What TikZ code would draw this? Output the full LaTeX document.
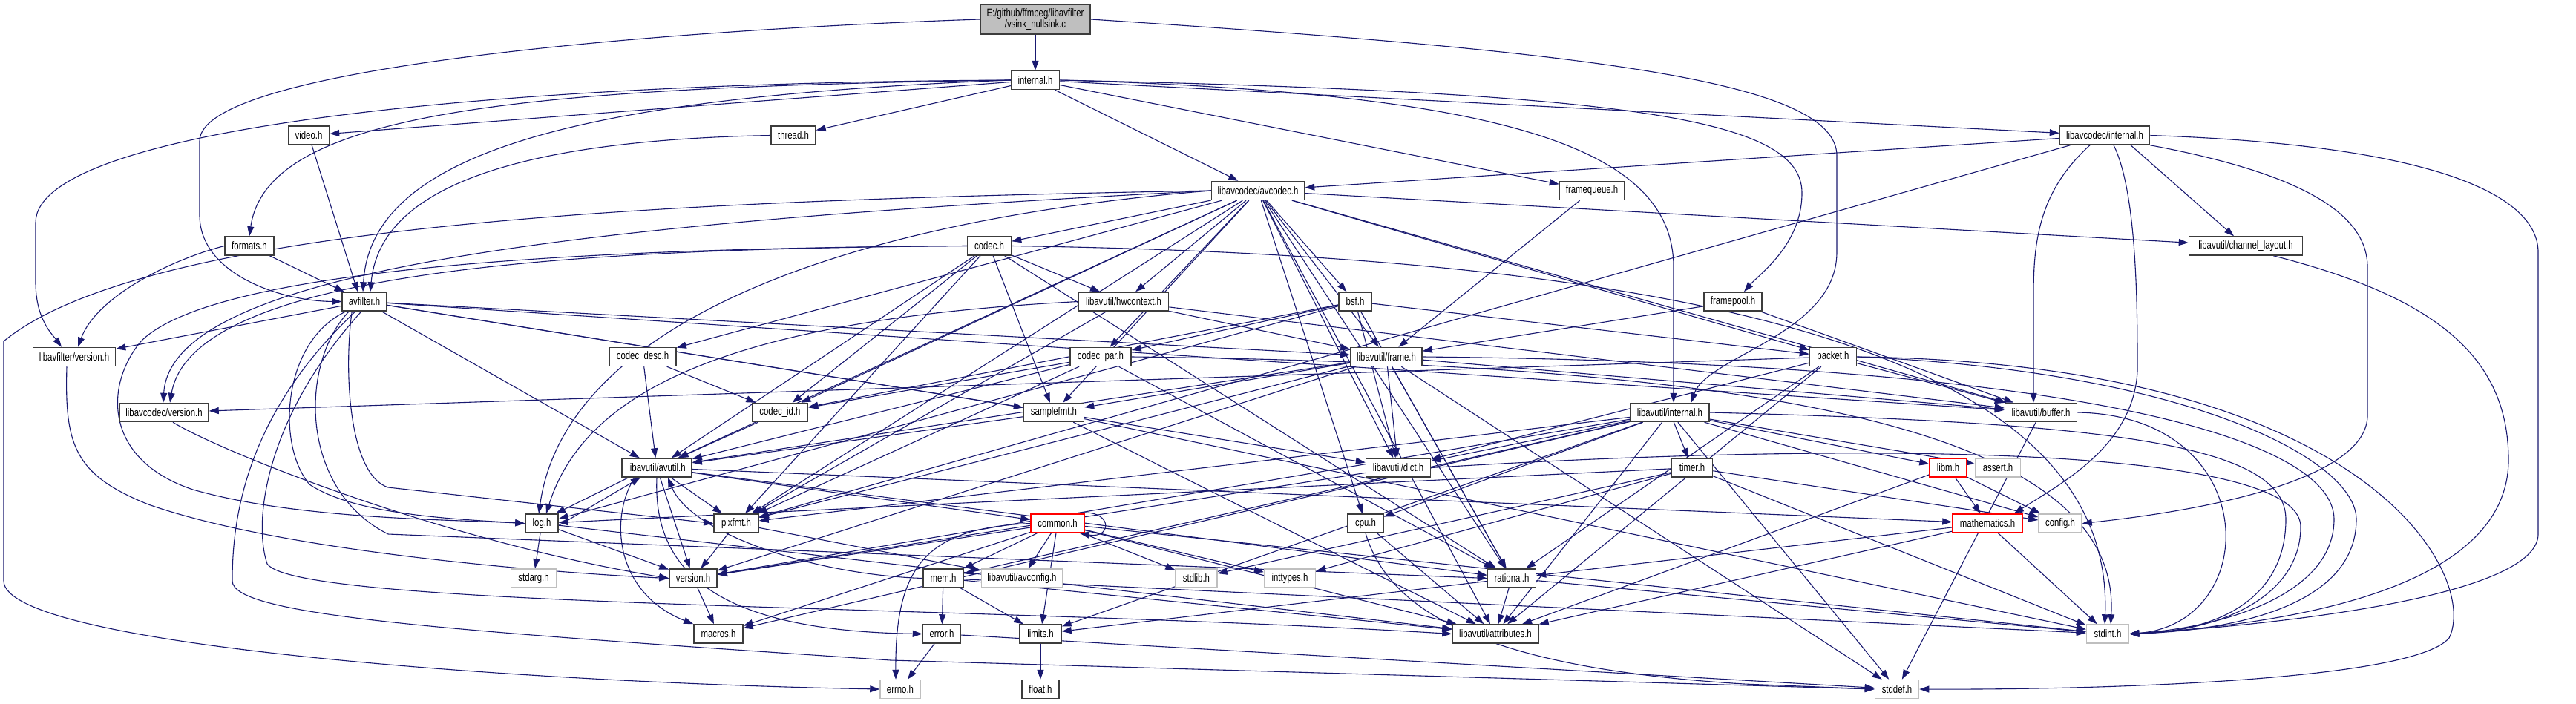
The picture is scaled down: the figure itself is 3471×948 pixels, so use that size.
\documentclass[tikz,border=0pt]{standalone}
\usepackage{fontspec}
\setmainfont{Liberation Sans}[FakeStretch=0.76]
\usetikzlibrary{arrows.meta}
\definecolor{mblue}{HTML}{191970}
\definecolor{bord}{HTML}{3C3C3C}
\definecolor{gry}{HTML}{BFBFBF}
\pgfdeclarelayer{back}
\pgfdeclarelayer{edges}
\pgfsetlayers{back,edges,main}
\begin{document}
\begin{tikzpicture}[x=1pt,y=-1pt,
  nd/.style={draw=bord, line width=1.5pt, fill=white, minimum height=25pt, inner sep=0pt, font=\fontsize{15}{17}\selectfont, text=black},
  gn/.style={nd, draw=gry},
  rn/.style={nd, draw=red},
  e/.style={draw=mblue, line width=1.1pt, line join=round, -{Triangle[length=13pt,width=9pt]}}]
\begin{pgfonlayer}{back}
\fill[white] (0,0) rectangle (3471,948);
\end{pgfonlayer}
\useasboundingbox (0,0) rectangle (3471,948);

\node[nd,fill=gry,minimum width=148pt,minimum height=40pt,align=center,font=\fontsize{15}{15}\selectfont] (vsink) at (1395,26) {E:/github/ffmpeg/libavfilter\\/vsink\_nullsink.c};
\node[nd,minimum width=65pt] (internal) at (1395,108) {internal.h};
\node[nd,minimum width=55pt] (video) at (416,182.5) {video.h};
\node[nd,minimum width=60pt] (thread) at (1069,182.5) {thread.h};
\node[nd,minimum width=121pt] (lcinternal) at (2836,182.5) {libavcodec/internal.h};
\node[nd,minimum width=125pt] (avcodec) at (1695,257) {libavcodec/avcodec.h};
\node[nd,minimum width=87pt] (framequeue) at (2145,257) {framequeue.h};
\node[nd,minimum width=66pt] (formats) at (336,331.5) {formats.h};
\node[nd,minimum width=59pt] (codec) at (1333,331.5) {codec.h};
\node[nd,minimum width=153pt] (chlayout) at (3026,331.5) {libavutil/channel\_layout.h};
\node[nd,minimum width=60pt] (avfilter) at (491,406.5) {avfilter.h};
\node[nd,minimum width=121pt] (hwcontext) at (1514,406.5) {libavutil/hwcontext.h};
\node[nd,minimum width=44pt] (bsf) at (1826,406.5) {bsf.h};
\node[nd,minimum width=78pt] (framepool) at (2335,406.5) {framepool.h};
\node[nd,minimum width=111pt] (lfversion) at (100,481) {libavfilter/version.h};
\node[nd,minimum width=90pt] (codecdesc) at (866,481) {codec\_desc.h};
\node[nd,minimum width=82pt] (codecpar) at (1483,481) {codec\_par.h};
\node[nd,minimum width=96pt] (frame) at (1868,481) {libavutil/frame.h};
\node[nd,minimum width=63pt] (packet) at (2470,481) {packet.h};
\node[nd,minimum width=120pt] (lcversion) at (221,556) {libavcodec/version.h};
\node[nd,minimum width=75pt] (codecid) at (1051,556) {codec\_id.h};
\node[nd,minimum width=81pt] (samplefmt) at (1420,556) {samplefmt.h};
\node[nd,minimum width=106pt] (luinternal) at (2250,556) {libavutil/internal.h};
\node[nd,minimum width=97pt] (buffer) at (2750,556) {libavutil/buffer.h};
\node[nd,minimum width=94pt] (avutil) at (885,630.5) {libavutil/avutil.h};
\node[nd,minimum width=87pt] (dict) at (1884,630.5) {libavutil/dict.h};
\node[nd,minimum width=55pt] (timer) at (2280,630.5) {timer.h};
\node[rn,minimum width=50pt] (libm) at (2625,630.5) {libm.h};
\node[gn,minimum width=61pt] (assert) at (2692,630.5) {assert.h};
\node[nd,minimum width=44pt] (logh) at (730,705.5) {log.h};
\node[nd,minimum width=60pt] (pixfmt) at (992,705.5) {pixfmt.h};
\node[rn,minimum width=72pt] (common) at (1425,705.5) {common.h};
\node[nd,minimum width=48pt] (cpu) at (1840,705.5) {cpu.h};
\node[rn,minimum width=94pt] (mathematics) at (2678,705.5) {mathematics.h};
\node[gn,minimum width=58pt] (config) at (2776,705.5) {config.h};
\node[gn,minimum width=61pt] (stdarg) at (719,779.5) {stdarg.h};
\node[nd,minimum width=64pt] (version) at (934,779.5) {version.h};
\node[nd,minimum width=54pt] (mem) at (1271,779.5) {mem.h};
\node[gn,minimum width=109pt] (avconfig) at (1377,779.5) {libavutil/avconfig.h};
\node[gn,minimum width=56pt] (stdlib) at (1612,779.5) {stdlib.h};
\node[gn,minimum width=69pt] (inttypes) at (1738,779.5) {inttypes.h};
\node[nd,minimum width=65pt] (rational) at (2037,779.5) {rational.h};
\node[nd,minimum width=66pt] (macros) at (968,854.5) {macros.h};
\node[nd,minimum width=51pt] (error) at (1269,854.5) {error.h};
\node[nd,minimum width=56pt] (limits) at (1402,854.5) {limits.h};
\node[nd,minimum width=116pt] (attributes) at (2015,854.5) {libavutil/attributes.h};
\node[gn,minimum width=57pt] (stdint) at (2840,854.5) {stdint.h};
\node[gn,minimum width=54pt] (errno) at (1213,929) {errno.h};
\node[nd,minimum width=50pt] (floath) at (1402,929) {float.h};
\node[gn,minimum width=59pt] (stddef) at (2556,929) {stddef.h};

\begin{pgfonlayer}{edges}
% root
\draw[e] (vsink) -- (internal);
\draw[e] (vsink.west) .. controls (900,40) and (269,90) .. (269,190) -- (269,290) .. controls (269,370) and (380,406) .. (avfilter.west);
\draw[e] (vsink.east) .. controls (2150,70) and (2475,110) .. (2475,210) -- (2475,340) .. controls (2475,450) and (2300,480) .. ([xshift=-25pt]luinternal.north east);
% internal.h
\draw[e] (internal) -- (video);
\draw[e] (internal) -- (thread);
\draw[e] (internal) -- (avcodec);
\draw[e] (internal) -- (framequeue);
\draw[e] (internal) -- (lcinternal);
\draw[e] (internal.west) .. controls (700,118) and (360,150) .. (formats.north);
\draw[e] (internal.west) .. controls (600,112) and (48,180) .. (48,300) -- (48,380) .. controls (48,430) and (70,450) .. ([xshift=-17pt]lfversion.north);
\draw[e] (internal.west) .. controls (800,130) and (500,200) .. ([xshift=-2pt]avfilter.north);
\draw[e] (internal.east) .. controls (2030,125) and (2255,200) .. (2255,360) -- ([xshift=5pt]luinternal.north);
\draw[e] (internal.east) .. controls (2200,125) and (2428,160) .. (2428,260) .. controls (2428,330) and (2370,370) .. ([xshift=15pt]framepool.north);
\draw[e] (video) -- ([xshift=-9pt]avfilter.north);
\draw[e] (thread.west) .. controls (650,190) and (510,270) .. ([xshift=8pt]avfilter.north);
\draw[e] (formats) -- (avfilter);
\draw[e] (formats.west) .. controls (230,350) and (130,400) .. ([xshift=5pt]lfversion.north);
% avfilter.h
\draw[e] (avfilter) -- (lfversion);
\draw[e] (avfilter) -- (avutil);
\draw[e] (avfilter) -- (samplefmt);
\draw[e] (avfilter) -- (dict);
\draw[e] (avfilter) -- (frame);
\draw[e] (avfilter) -- (buffer);
\draw[e] ([xshift=6pt]avfilter.south west) .. controls (380,460) and (372,600) .. (417,653) .. controls (480,695) and (620,700) .. (logh.west);
\draw[e] ([xshift=14pt]avfilter.south west) .. controls (463,500) and (470,640) .. (523,657) -- (pixfmt.west);
\draw[e] ([xshift=10pt]avfilter.south west) .. controls (403,490) and (403,660) .. (523,720) -- (rational.west);
\draw[e] ([xshift=-4pt]avfilter.south) .. controls (360,560) and (340,700) .. (360,760) .. controls (400,820) and (1300,815) .. (attributes.west);
\draw[e] ([xshift=-12pt]avfilter.south) .. controls (330,560) and (313,700) .. (313,783) .. controls (313,830) and (600,850) .. (1200,890) -- (stddef.west);
% avcodec.h
\draw[e] (avcodec.west) .. controls (900,270) and (200,300) .. (5,460) -- (5,783) .. controls (5,870) and (700,920) .. (errno.west);
\draw[e] (avcodec.west) .. controls (800,300) and (230,360) .. ([xshift=-1pt]lcversion.north);
\draw[e] (avcodec.west) .. controls (1100,300) and (760,450) .. ([xshift=-4pt]logh.north);
\draw[e] (avcodec) -- (samplefmt);
\draw[e] (avcodec) -- (attributes);
\draw[e] (avcodec) -- (avutil);
\draw[e] (avcodec) -- (buffer);
\draw[e] (avcodec) -- (cpu);
\draw[e] (avcodec) -- (chlayout);
\draw[e] (avcodec) -- (dict);
\draw[e] (avcodec) -- (frame);
\draw[e] (avcodec) -- (hwcontext);
\draw[e] (avcodec) -- (pixfmt);
\draw[e] (avcodec) -- (rational);
\draw[e] (avcodec) -- (bsf);
\draw[e] (avcodec) -- (codec);
\draw[e] (avcodec) -- (codecdesc);
\draw[e] (avcodec) -- (codecpar);
\draw[e] (avcodec) -- (codecid);
\draw[e] (avcodec) -- (packet);
% codec.h
\draw[e] (codec.east) .. controls (2300,345) and (2850,480) .. ([xshift=-4pt]stdint.north);
\draw[e] (codec) -- (avutil);
\draw[e] (codec) -- (hwcontext);
\draw[e] (codec.west) .. controls (900,334) and (300,350) .. (190,460) .. controls (140,520) and (140,620) .. (260,660) .. controls (400,700) and (600,700) .. (logh.west);
\draw[e] (codec) -- (pixfmt);
\draw[e] (codec) -- (rational);
\draw[e] (codec) -- (samplefmt);
\draw[e] (codec) -- (codecid);
\draw[e] (codec.west) .. controls (800,335) and (260,360) .. ([xshift=8pt]lcversion.north);
% codec_desc.h, codec_id.h
\draw[e] (codecdesc) -- (avutil);
\draw[e] (codecdesc) -- (codecid);
\draw[e] (codecid) -- (avutil);
% codec_par.h
\draw[e] (codecpar.east) .. controls (2300,490) and (2860,560) .. ([xshift=4pt]stdint.north);
\draw[e] (codecpar) -- (avutil);
\draw[e] (codecpar) -- (rational);
\draw[e] (codecpar) -- (pixfmt);
\draw[e] (codecpar) -- (codecid);
% bsf.h
\draw[e] (bsf) -- (dict);
\draw[e] (bsf) -- (logh);
\draw[e] (bsf) -- (rational);
\draw[e] (bsf) -- (codecid);
\draw[e] (bsf) -- (codecpar);
\draw[e] (bsf) -- (packet);
% packet.h
\draw[e] (packet.east) .. controls (3200,490) and (3340,780) .. (3300,860) .. controls (3250,920) and (2800,930) .. (stddef.east);
\draw[e] (packet.east) .. controls (2950,500) and (3175,620) .. (3175,700) .. controls (3175,820) and (3000,850) .. (stdint.east);
\draw[e] (packet) -- (attributes);
\draw[e] (packet) -- (buffer);
\draw[e] (packet) -- (dict);
\draw[e] (packet) -- (rational);
\draw[e] (packet) -- (lcversion);
% hwcontext.h
\draw[e] (hwcontext) -- (buffer);
\draw[e] (hwcontext) -- (frame);
\draw[e] (hwcontext.west) .. controls (1000,430) and (790,520) .. ([xshift=6pt]logh.north);
\draw[e] (hwcontext) -- (pixfmt);
% frame.h
\draw[e] (frame) -- (stddef);
\draw[e] (frame.east) .. controls (2850,490) and (3145,600) .. (3145,700) .. controls (3145,800) and (3000,845) .. (stdint.east);
\draw[e] (frame) -- (avutil);
\draw[e] (frame) -- (buffer);
\draw[e] (frame) -- (dict);
\draw[e] (frame) -- (rational);
\draw[e] (frame) -- (samplefmt);
\draw[e] (frame) -- (pixfmt);
\draw[e] (frame) -- (version);
% samplefmt.h
\draw[e] (samplefmt) -- (stdint);
\draw[e] (samplefmt) -- (avutil);
\draw[e] (samplefmt) -- (attributes);
% dict.h
\draw[e] (dict.east) .. controls (2500,595) and (3100,600) .. (3100,710) .. controls (3100,800) and (3000,850) .. (stdint.east);
\draw[e] (dict) -- (version);
% buffer.h
\draw[e] (buffer) -- (stddef);
\draw[e] (buffer.east) .. controls (3050,560) and (3050,840) .. (stdint.east);
% avutil.h
\draw[e] (avutil) -- (common);
\draw[e] (avutil.south) .. controls (880,760) and (950,850) .. (error.west);
\draw[e] (avutil) -- (rational);
\draw[e] (avutil) -- (version);
\draw[e] ([xshift=-30pt]avutil.south) .. controls (820,700) and (830,800) .. (macros.north west);
\draw[e] (avutil) -- (mathematics);
\draw[e] ([xshift=-38pt]avutil.south) -- ([xshift=-4pt]logh.north east);
\draw[e] ([yshift=-3pt]logh.east) -- ([xshift=-22pt]avutil.south);
\draw[e] (avutil) -- (pixfmt);
% common.h
\draw[e] (common.west) .. controls (1250,712) and (1206,760) .. ([xshift=-6pt]errno.north);
\draw[e] (common) -- (inttypes);
\draw[e] (common) -- (limits);
\draw[e] (common) -- (stdint);
\draw[e] (common) -- (stdlib);
\draw[e] (common) -- (attributes);
\draw[e] (common) -- (macros);
\draw[e] (common) -- (version);
\draw[e] (common) -- (avconfig);
\draw[e] (common) -- (mem);
\draw[e] ([xshift=-14pt]common.north east) .. controls (1500,683) and (1500,727) .. ([xshift=-7pt]common.south east);
% error.h, rational.h, version.h
\draw[e] (error) -- (errno);
\draw[e] (error) -- (stddef);
\draw[e] (rational) -- (stdint);
\draw[e] (rational) -- (limits);
\draw[e] (rational) -- (attributes);
\draw[e] (version) -- (macros);
% mathematics.h
\draw[e] (mathematics) -- (stdint);
\draw[e] (mathematics) -- (attributes);
\draw[e] (mathematics) -- (rational);
% log.h
\draw[e] (logh) -- (stdarg);
\draw[e] (logh) -- (attributes);
\draw[e] (logh) -- (version);
% pixfmt.h
\draw[e] (pixfmt) -- (avconfig);
\draw[e] (pixfmt) -- (version);
% mem.h
\draw[e] (mem) -- (limits);
\draw[e] (mem) -- (stdint);
\draw[e] (mem) -- (attributes);
\draw[e] (mem) -- (error);
\draw[e] (mem.west) .. controls (1100,775) and (930,720) .. ([xshift=15pt]avutil.south);
% cpu.h
\draw[e] (cpu) -- (attributes);
\draw[e] (cpu.south) .. controls (1870,820) and (1990,900) .. (2350,922) -- (stddef.west);
% channel_layout.h, limits.h
\draw[e] ([xshift=-40pt]chlayout.south east) .. controls (3280,400) and (3380,480) .. (3380,620) .. controls (3380,790) and (3100,840) .. (stdint.east);
\draw[e] (limits) -- (floath);
% libavutil/internal.h
\draw[e] (luinternal) -- (limits);
\draw[e] (luinternal.east) .. controls (2850,570) and (3080,600) .. (3080,700) .. controls (3080,800) and (3000,850) .. (stdint.east);
\draw[e] (luinternal) -- (stddef);
\draw[e] (luinternal) -- (assert);
\draw[e] (luinternal) -- (config);
\draw[e] (luinternal) -- (attributes);
\draw[e] (luinternal) -- (timer);
\draw[e] (luinternal) -- (cpu);
\draw[e] (luinternal) -- (dict);
\draw[e] (luinternal) -- (macros);
\draw[e] (luinternal) -- (mem);
\draw[e] (luinternal) -- (pixfmt);
\draw[e] (luinternal) -- (version);
\draw[e] (luinternal) -- (libm);
% timer.h
\draw[e] (timer) -- (config);
\draw[e] (timer) -- (stdlib);
\draw[e] (timer) -- (stdint);
\draw[e] (timer) -- (inttypes);
\draw[e] (timer) -- (logh);
% libm.h
\draw[e] (libm) -- (config);
\draw[e] (libm) -- (attributes);
\draw[e] (libm) -- (mathematics);
% libavcodec/internal.h
\draw[e] (lcinternal.east) .. controls (3270,195) and (3420,260) .. (3420,340) -- (3420,720) .. controls (3420,800) and (3100,840) .. (stdint.east);
\draw[e] ([xshift=-20pt]lcinternal.south) .. controls (2745,260) and (2740,330) .. (2740,400) -- ([xshift=-10pt]buffer.north);
\draw[e] ([xshift=35pt]lcinternal.south) -- ([xshift=-16pt]chlayout.north);
\draw[e] ([xshift=12pt]lcinternal.south) .. controls (2880,260) and (2880,420) .. (2880,500) .. controls (2875,600) and (2780,650) .. ([xshift=-12pt]mathematics.north east);
\draw[e] (lcinternal) -- (pixfmt);
\draw[e] (lcinternal) -- (avcodec);
\draw[e] (lcinternal.south east) .. controls (3080,230) and (3190,280) .. (3190,360) -- (3190,560) .. controls (3190,640) and (3000,685) .. (config.east);
% version headers
\draw[e] ([xshift=12pt]lcversion.south) .. controls (300,610) and (600,730) .. (version.west);
\draw[e] ([xshift=-10pt]lfversion.south) .. controls (87,600) and (100,640) .. (200,680) .. controls (400,750) and (800,775) .. (version.west);
% framequeue, framepool
\draw[e] (framequeue) -- (frame);
\draw[e] (framepool) -- (frame);
\draw[e] (framepool) -- (buffer);
\end{pgfonlayer}
\end{tikzpicture}
\end{document}
